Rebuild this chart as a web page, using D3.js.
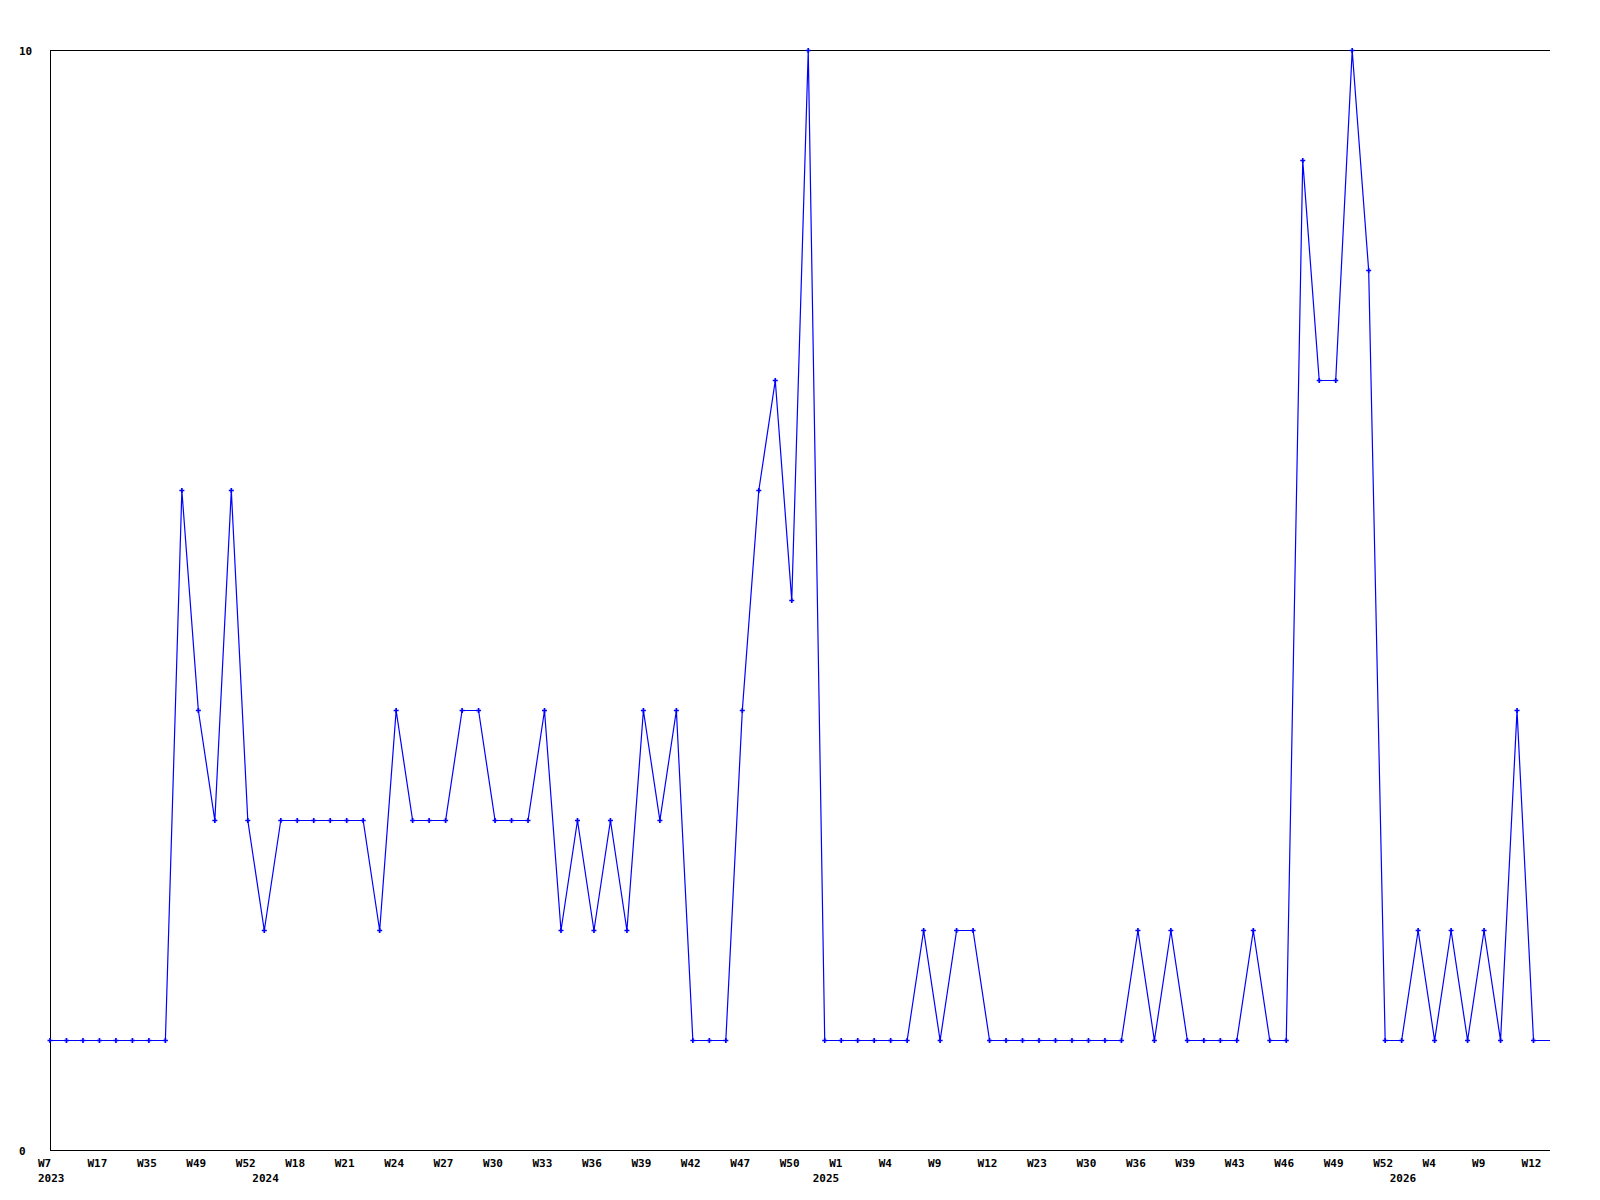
<!DOCTYPE html>
<html>
<head>
<meta charset="utf-8">
<script src="https://cdn.jsdelivr.net/npm/d3@7"></script>
<style>
  body { margin: 0; background: #fff; }
  text { font-family: "DejaVu Sans Mono", monospace; font-weight: bold; font-size: 11px; fill: #000; }
</style>
</head>
<body>
<div id="chart"></div>
<script>
// weekly counts, one per point
var values = [1,1,1,1,1,1,1,1,6,4,3,6,3,2,3,3,3,3,3,3,2,4,3,3,3,4,4,3,3,3,
              4,2,3,2,3,2,4,3,4,1,1,1,4,6,7,5,10,1,1,1,1,1,1,2,1,2,2,1,1,1,
              1,1,1,1,1,1,2,1,2,1,1,1,1,2,1,1,9,7,7,10,8,1,1,2,1,2,1,2,1,4,1]

// labels shown every 3rd point
var weekLabels = ["W7","W17","W35","W49","W52","W18","W21","W24","W27","W30","W33",
                  "W36","W39","W42","W47","W50","W1","W4","W9","W12","W23","W30",
                  "W36","W39","W43","W46","W49","W52","W4","W9","W12"]
var labelStep = 3

// year labels and the point index they sit under
var years = ["2023","2024","2025","2026"]
var yearIndex = [0,13,47,82]

var yTicks = [0,10]

var sheet = {w:1600, h:1200, left:50, right:1550, top:50, bottom:1150}

var svg = d3.select("#chart")
    .append("svg")
    .attr("width",sheet.w)
    .attr("height",sheet.h)

var x = d3.scaleLinear().domain([0, values.length]).range([sheet.left, sheet.right])
var y = d3.scaleLinear().domain([0, 10]).range([sheet.bottom, sheet.top])

//frame lines: left, top, bottom
svg.append("path")
    .attr("d","M"+(x(0)+0.5)+","+y(10)+"V"+(y(0)+0.5))
    .attr("stroke","#000").attr("fill","none").attr("shape-rendering","crispEdges")
svg.append("path")
    .attr("d","M"+x(0)+","+(y(10)+0.5)+"H"+x(values.length))
    .attr("stroke","#000").attr("fill","none").attr("shape-rendering","crispEdges")
svg.append("path")
    .attr("d","M"+x(0)+","+(y(0)+0.5)+"H"+x(values.length))
    .attr("stroke","#000").attr("fill","none").attr("shape-rendering","crispEdges")

//y labels
svg.selectAll(".ylab")
    .data(yTicks)
    .enter()
    .append("text")
    .attr("class","ylab")
    .attr("x",19)
    .attr("y",function(d){return y(d)+5})
    .text(function(d){return d})

//week labels (start a little left of the tick)
svg.selectAll(".wlab")
    .data(weekLabels)
    .enter()
    .append("text")
    .attr("class","wlab")
    .attr("x",function(d,i){return x(i*labelStep)-12})
    .attr("y",sheet.bottom+17)
    .text(function(d){return d})

//year labels
svg.selectAll(".ylab2")
    .data(years)
    .enter()
    .append("text")
    .attr("class","ylab2")
    .attr("x",function(d,i){return x(yearIndex[i])-12})
    .attr("y",sheet.bottom+32)
    .text(function(d){return d})

//line runs on to the right edge at the last value
var linePts = values.map(function(v,i){return [i,v]})
linePts.push([values.length, values[values.length-1]])

var line = d3.line()
    .x(function(d){return x(d[0])})
    .y(function(d){return y(d[1])+0.5})

svg.append("path")
    .datum(linePts)
    .attr("d",line)
    .attr("fill","none")
    .attr("stroke","#0000ff")
    .attr("stroke-width",1.2)

//markers
svg.selectAll(".pt")
    .data(values)
    .enter()
    .append("path")
    .attr("class","pt")
    .attr("transform",function(d,i){return "translate("+x(i)+","+(y(d)+0.5)+")"})
    .attr("d",d3.symbol().type(d3.symbolCross).size(14))
    .attr("fill","#0000ff")
</script>
</body>
</html>
